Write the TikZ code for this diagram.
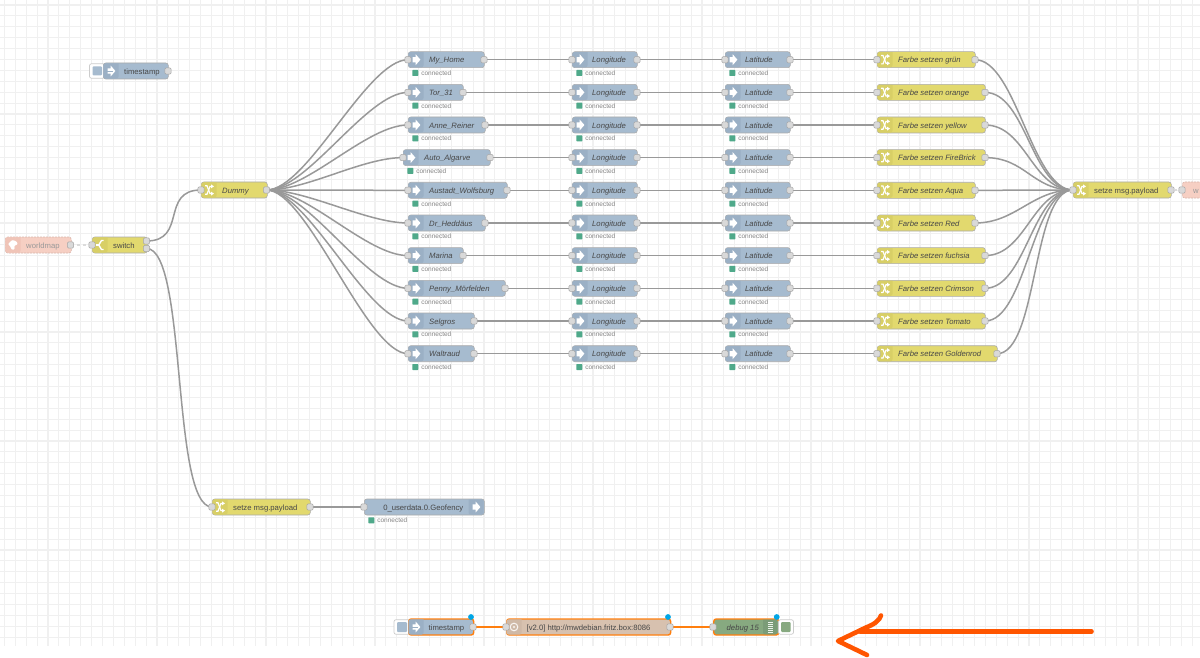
\documentclass[tikz,border=0pt]{standalone}
\usepackage{fontspec}
\setmainfont{Liberation Sans}
\usetikzlibrary{backgrounds}
\definecolor{injectblue}{HTML}{A6BBCF}
\definecolor{injectshade}{HTML}{9BB0C5}
\definecolor{changeyellow}{HTML}{E2D96E}
\definecolor{changeshade}{HTML}{D8CF66}
\definecolor{mappink}{HTML}{F6CFC3}
\definecolor{mapshade}{HTML}{F0C4B7}
\definecolor{influxtan}{HTML}{D7C1AF}
\definecolor{influxshade}{HTML}{CFB9A7}
\definecolor{debuggreen}{HTML}{87A980}
\definecolor{debugshade}{HTML}{7B9C78}
\definecolor{edgegrey}{HTML}{ABABAB}
\definecolor{portfill}{HTML}{D9D9D9}
\definecolor{wiregrey}{HTML}{999999}
\definecolor{selectorange}{HTML}{FF7F0E}
\definecolor{markerorange}{HTML}{FF5500}
\definecolor{dotblue}{HTML}{00A6E6}
\definecolor{okgreen}{HTML}{4FA98A}
\definecolor{gridgrey}{HTML}{F0F0F0}
\tikzset{
  flowbox/.style={draw=edgegrey, line width=.6pt, rounded corners=2.5pt, inner sep=0pt, minimum height=16pt, anchor=west},
  chosen/.style={draw=selectorange, line width=1.4pt},
  faded/.style={draw=mapshade!80!gray, dashed, dash pattern=on 2pt off 1pt},
  portbox/.style={draw=black!35, line width=.5pt, fill=portfill, rounded corners=1.2pt, minimum size=6.2pt, inner sep=0pt},
  tag/.style={font=\fontsize{7.7}{9}\selectfont, text=black!72, anchor=west, inner sep=0pt, text height=5.6pt, text depth=1.6pt, yshift=-1.2pt},
  tagit/.style={tag, font=\fontsize{7.7}{9}\selectfont\itshape},
  statetag/.style={font=\fontsize{6.5}{8}\selectfont, text=black!48, anchor=west, inner sep=0pt, text height=4.8pt, text depth=1.2pt, yshift=-1pt},
  wire/.style={draw=wiregrey, line width=1.5pt},
  pickedwire/.style={draw=selectorange, line width=1.5pt},
  ghostwire/.style={draw=black!14, line width=1.3pt, dashed, dash pattern=on 3pt off 3pt},
  markerline/.style={draw=markerorange, line width=4.6pt, line cap=round, line join=round},
}
% body of a flow node with its coloured icon strip on the left
% #1 name, #2 left, #3 right, #4 centre y, #5 fill, #6 strip, #7 extra style
\newcommand{\flowbody}[7]{%
  \node[flowbox, fill=#5, minimum width=(#3-#2)*1pt, #7] (#1) at (#2,#4) {};
  \fill[#6, rounded corners=2pt] (#2+15.5,#4-7.6) -- (#2+.4,#4-7.6) -- (#2+.4,#4+7.6) -- (#2+15.5,#4+7.6) [sharp corners] -- cycle;
}
% connection ports on the edges of a node
\newcommand{\portin}[3]{\node[portbox] (#1in) at (#2,#3) {};}
\newcommand{\portout}[3]{\node[portbox] (#1out) at (#2,#3) {};}
% icons, centred on the given point
\newcommand{\iconshuffle}[2]{%
  \draw[white, line width=1.2pt] (#1-4,#2-4.2) -- (#1-2,#2-4.2) -- (#1+1,#2+3.6) -- (#1+2.5,#2+3.6);
  \draw[white, line width=1.2pt] (#1-4,#2+4.2) -- (#1-2,#2+4.2) -- (#1+1,#2-3.6) -- (#1+2.5,#2-3.6);
  \fill[white] (#1+2,#2-5.6) -- (#1+5,#2-3.6) -- (#1+2,#2-1.6) -- cycle;
  \fill[white] (#1+2,#2+1.6) -- (#1+5,#2+3.6) -- (#1+2,#2+5.6) -- cycle;
}
\newcommand{\iconarrow}[2]{%
  \fill[white] (#1-3.5,#2-2.6) -- (#1-.3,#2-2.6) -- (#1-.3,#2-5.4) -- (#1+4.4,#2) -- (#1-.3,#2+5.4) -- (#1-.3,#2+2.6) -- (#1-3.5,#2+2.6) -- cycle;
}
\newcommand{\iconinject}[2]{%
  \iconarrow{#1}{#2}
  \fill[injectshade] (#1-4,#2-.45) rectangle (#1+1.8,#2+.45);
}
\newcommand{\iconfork}[2]{%
  \draw[white, line width=1.4pt] (#1+3.5,#2-4.5) -- (#1+1.5,#2-4.5) -- (#1-1.2,#2) -- (#1+1.5,#2+4.5) -- (#1+3.5,#2+4.5);
  \draw[white, line width=1.4pt] (#1-1.2,#2) -- (#1-4,#2);
}
\newcommand{\iconglobe}[2]{%
  \fill[white, rounded corners=1pt] (#1-5,#2-1) -- (#1-1,#2-5) -- (#1+3,#2-4) -- (#1+5,#2-1) -- (#1+1,#2+1) -- (#1+2,#2+4) -- (#1-1,#2+5) -- (#1-3,#2+1) -- cycle;
}
\newcommand{\iconring}[2]{%
  \draw[white!85!influxtan, line width=1pt] (#1,#2) circle (3.8pt);
  \fill[white!70!influxtan] (#1,#2) circle (1.4pt);
}
% the green status square and its caption
\newcommand{\statusline}[3]{%
  \fill[okgreen, rounded corners=.6pt] (#1,#2+10.3) rectangle (#1+6,#2+16.3);
  \node[statetag] (#3) at (#1+8.8,#2+13) {connected};
}
\begin{document}
\begin{tikzpicture}[x=1pt, y=-1pt]
\useasboundingbox (0,0) rectangle (1200,658);
\clip (0,0) rectangle (1200,658);

% canvas grid
\begin{scope}[on background layer]
  \fill[white] (0,0) rectangle (1200,658);
  \foreach \g in {0,...,110} {
    \draw[gridgrey, line width=1.1pt] ({4.4+\g*10.9},0) -- ({4.4+\g*10.9},646);
  }
  \foreach \g in {0,...,58} {
    \draw[gridgrey, line width=1.1pt] (0,{5+\g*10.9}) -- (1200,{5+\g*10.9});
  }
\end{scope}

% lone timestamp inject
\node[draw=black!20, fill=white, rounded corners=2pt, line width=.7pt, minimum width=15pt, minimum height=14.5pt, inner sep=0pt] (tsbutton) at (97,71) {};
\fill[injectblue, rounded corners=1pt] (92.5,66.5) rectangle (102,75.5);
\flowbody{ts}{103}{168}{71}{injectblue}{injectshade}{}
\iconinject{111}{71}
\node[tag] (tslabel) at (124,71) {timestamp};
\portout{ts}{168}{71}

% worldmap input, switch, dummy
\flowbody{wm}{5}{71}{245}{mappink}{mapshade}{faded}
\iconglobe{13}{245}
\node[tag, text=black!40] (wmlabel) at (26,245) {worldmap};
\portout{wm}{70.5}{245}

\flowbody{sw}{92}{147}{245}{changeyellow}{changeshade}{}
\iconfork{100}{245}
\node[tag] (swlabel) at (113,245) {switch};
\portin{sw}{92}{245}
\node[portbox] (swoutA) at (146.5,241) {};
\node[portbox] (swoutB) at (146.5,248.5) {};

\flowbody{dm}{201}{267}{190}{changeyellow}{changeshade}{}
\iconshuffle{209}{190}
\node[tagit] (dmlabel) at (222,190) {Dummy};
\portin{dm}{201}{190}
\portout{dm}{266.5}{190}

% one row per tracked device: subscribe node, longitude, latitude, colour
\foreach \n/\y/\ax/\bx/\dev/\farbe/\fx in {
  1/59.7/408/484/My\_Home/grün/975,
  2/92.4/408/463/Tor\_31/orange/985,
  3/125/408/485/Anne\_Reiner/yellow/985,
  4/157.6/403/490/Auto\_Algarve/FireBrick/985,
  5/190.3/408/507/Austadt\_Wolfsburg/Aqua/975,
  6/223/408/485/Dr\_Heddäus/Red/975,
  7/255.6/408/463/Marina/fuchsia/985,
  8/288.3/408/505/Penny\_Mörfelden/Crimson/985,
  9/321/408/474/Selgros/Tomato/985,
  10/353.7/408/474/Waltraud/Goldenrod/997} {
  \flowbody{dev\n}{\ax}{\bx}{\y}{injectblue}{injectshade}{}
  \iconarrow{\ax+8}{\y}
  \node[tagit] (devlabel\n) at (\ax+21,\y) {\dev};
  \portin{dev\n}{\ax}{\y}
  \portout{dev\n}{\bx}{\y}
  \statusline{\ax+4.3}{\y}{devstate\n}

  \flowbody{lon\n}{572}{637}{\y}{injectblue}{injectshade}{}
  \iconarrow{580}{\y}
  \node[tagit] (lonlabel\n) at (592,\y) {Longitude};
  \portin{lon\n}{572}{\y}
  \portout{lon\n}{637}{\y}
  \statusline{576.3}{\y}{lonstate\n}

  \flowbody{lat\n}{725}{790}{\y}{injectblue}{injectshade}{}
  \iconarrow{733}{\y}
  \node[tagit] (latlabel\n) at (745,\y) {Latitude};
  \portin{lat\n}{725}{\y}
  \portout{lat\n}{790}{\y}
  \statusline{729.3}{\y}{latstate\n}

  \flowbody{col\n}{877}{\fx}{\y}{changeyellow}{changeshade}{}
  \iconshuffle{885}{\y}
  \node[tagit] (collabel\n) at (898,\y) {Farbe setzen \farbe};
  \portin{col\n}{877}{\y}
  \portout{col\n}{\fx}{\y}
}

% merged payload and the worldmap output it feeds
\flowbody{pay}{1073}{1171}{190}{changeyellow}{changeshade}{}
\iconshuffle{1081}{190}
\node[tag] (paylabel) at (1094,190) {setze msg.payload};
\portin{pay}{1073}{190}
\portout{pay}{1171}{190}
\node[flowbox, fill=mappink, faded, minimum width=70pt] (wmo) at (1182,190) {};
\node[tag, text=black!40] (wmolabel) at (1193,190) {w};
\portin{wmo}{1182}{190}

% geofency branch
\flowbody{geo}{212}{310}{507}{changeyellow}{changeshade}{}
\iconshuffle{220}{507}
\node[tag] (geolabel) at (233,507) {setze msg.payload};
\portin{geo}{212}{507}
\portout{geo}{310}{507}
\node[flowbox, fill=injectblue, minimum width=120pt] (iob) at (364,507) {};
\fill[injectshade, rounded corners=2pt] (468.5,499.4) -- (483.6,499.4) -- (483.6,514.6) -- (468.5,514.6) [sharp corners] -- cycle;
\iconarrow{476}{507}
\node[tag, anchor=east] (ioblabel) at (463.5,507) {0\_userdata.0.Geofency};
\portin{iob}{364}{507}
\statusline{368.3}{507}{iobstate}

% selected test flow along the bottom
\node[draw=black!20, fill=white, rounded corners=2pt, line width=.7pt, minimum width=16pt, minimum height=14.5pt, inner sep=0pt] (testbutton) at (402,627) {};
\fill[injectblue, rounded corners=1pt] (397,622) rectangle (407,632);
\flowbody{tst}{408}{473}{627}{injectblue}{injectshade}{chosen}
\iconinject{416}{627}
\node[tag] (tstlabel) at (428.5,627) {timestamp};
\portout{tst}{473}{627}
\fill[dotblue] (471,617) circle (2.9pt);

\flowbody{flx}{506}{670}{627}{influxtan}{influxshade}{chosen}
\iconring{514}{627}
\node[tag] (flxlabel) at (526.5,627) {[v2.0] http://mwdebian.fritz.box:8086};
\portin{flx}{506}{627}
\portout{flx}{670}{627}
\fill[dotblue] (668,617) circle (2.9pt);

\node[flowbox, fill=debuggreen, chosen, minimum width=65pt] (dbg) at (713,627) {};
\fill[debugshade, rounded corners=2pt] (763,619.6) -- (777.4,619.6) -- (777.4,634.4) -- (763,634.4) [sharp corners] -- cycle;
\foreach \b in {621.5,623.5,625.5,627.5,629.5,631.5} {
  \fill[white!85!debuggreen] (768,\b) rectangle (773,\b+1.1);
}
\node[tagit] (dbglabel) at (726.5,627) {debug 15};
\portin{dbg}{713}{627}
\fill[dotblue] (776.7,617) circle (2.9pt);
\node[draw=black!20, fill=white, rounded corners=2pt, line width=.7pt, minimum width=15pt, minimum height=14.5pt, inner sep=0pt] (dbgbutton) at (786,627) {};
\fill[debuggreen, rounded corners=1pt] (781,622) rectangle (790.5,632);

% connectors, underneath the nodes and their ports
\begin{scope}[on background layer]
  \draw[ghostwire] (wmout.center) -- (swin.center);
  \draw[ghostwire, dash pattern=on 2pt off 2pt] (payout.center) -- (wmoin.center);
  \draw[wire] (swoutA.center) .. controls +(41,0) and +(-41,0) .. (dmin.center);
  \draw[wire] (swoutB.center) .. controls +(41,0) and +(-41,0) .. (geoin.center);
  \draw[wire] (geoout.center) -- (iobin.center);
  \foreach \n in {1,...,10} {
    \draw[wire] (dmout.center) .. controls +(41,0) and +(-41,0) .. (dev\n in.center);
    \draw[wire] (dev\n out.center) -- (lon\n in.center);
    \draw[wire] (lon\n out.center) -- (lat\n in.center);
    \draw[wire] (lat\n out.center) -- (col\n in.center);
    \draw[wire] (col\n out.center) .. controls +(41,0) and +(-41,0) .. (payin.center);
  }
  \draw[pickedwire] (tstout.center) -- (flxin.center);
  \draw[pickedwire] (flxout.center) -- (dbgin.center);
\end{scope}

% hand-drawn pointer towards the test flow
\draw[markerline] (1091.5,631.5) -- (860,631.5);
\draw[markerline] (881,615.5) .. controls (879.5,620.5) and (874,624.5) .. (866,627.5) -- (838,641) -- (867,655);
\end{tikzpicture}
\end{document}
